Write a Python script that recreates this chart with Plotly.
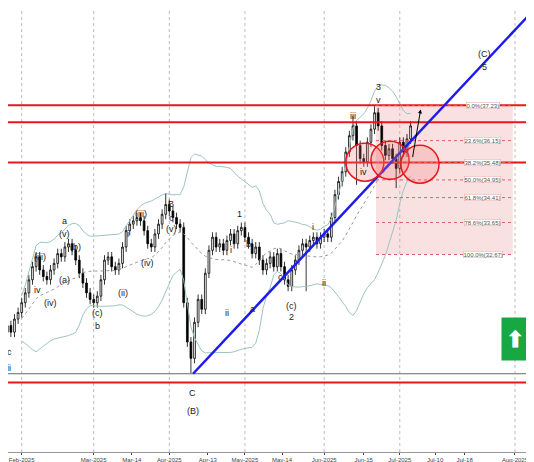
import plotly.graph_objects as go
import pandas as pd

## DATA
closes = [
    30.5, 30.3, 30.7, 30.9, 31.2, 31.5,
    31.9, 32.3, 32.6, 32.2, 32.0, 31.9,
    32.2, 32.4, 32.7, 32.6, 32.9, 33.0,
    32.8, 32.5, 32.1, 31.8, 31.5, 31.3,
    31.2, 31.4, 31.9, 32.5, 32.6, 32.3,
    32.2, 32.4, 32.9, 33.4, 33.6, 33.7,
    33.8, 33.7, 33.4, 33.0, 32.9, 33.3,
    33.6, 33.9, 34.2, 34.0, 33.8, 33.6,
    33.5, 31.2, 30.0, 29.5, 30.6, 31.3,
    31.0, 32.1, 32.8, 33.2, 32.9, 33.0,
    32.8, 33.1, 33.3, 33.0, 33.4, 33.5,
    33.2, 33.0, 32.7, 32.9, 32.5, 32.2,
    32.4, 32.6, 32.3, 32.7, 32.3, 31.9,
    31.7, 32.2, 32.5, 32.8, 33.0, 32.9,
    33.1, 33.2, 33.0, 33.2, 33.3, 33.2,
    33.8, 34.5, 34.9, 35.2, 35.8, 36.3,
    36.6, 36.0, 35.6, 35.5, 36.1, 36.5,
    37.0, 36.6, 36.0, 35.7, 35.9, 35.6,
    35.3, 36.1, 35.8, 36.2, 36.6,
]
first_index = -6
extreme_lows = {51: 29.05, 83: 31.55, 97: 34.8, 108: 34.7}
extreme_highs = {44: 34.55, 102: 37.2, 96: 36.9}

tick_labels = ['Feb-2025', 'Mar-2025', 'Mar-14', 'Apr-2025', 'Apr-13', 'May-2025', 'May-14',
               'Jun-2025', 'Jun-15', 'Jul-2025', 'Jul-10', 'Jul-18', 'Aug-2025']
tick_pos = [-2, 18, 28.6, 39, 49.7, 60, 70.3, 82, 93, 103, 112.8, 121, 135]
month_pos = [-2, 18, 39, 60, 82, 103, 135]

red_levels = [37.23, 36.71, 35.48, 28.76]
fib_pct = ['0.0%', '23.6%', '38.2%', '50.0%', '61.8%', '78.6%', '100.0%']
fib_val = [37.23, 36.15, 35.48, 34.95, 34.41, 33.65, 32.67]

wave_labels = [  # text, x, price
    ('(C)', 126.5, 38.8), ('5', 126.5, 38.4), ('3', 97, 37.8), ('B', 39.5, 34.2),
    ('c', 39.5, 33.8), ('(v)', 39.5, 33.45), ('1', 58.5, 33.9), ('2', 72.8, 30.75),
    ('(c)', 72.8, 31.1), ('C', 45.5, 28.45), ('(B)', 45.5, 27.9), ('iii', 90, 36.9),
    ('v', 97, 37.4), ('iv', 93, 35.2), ('(iv)', 33, 32.4), ('(ii)', 26, 31.5),
    ('i', 27.5, 33.3), ('(iii)', 31, 33.9), ('a', 10, 33.7), ('(v)', 10, 33.3),
    ('(b)', 13, 32.9), ('(a)', 10, 31.9), ('(iv)', 6, 31.2), ('(c)', 19, 30.9),
    ('b', 19, 30.5), ('iv', 2.5, 31.6), ('(iii)', 3, 32.6), ('i', 56, 32.8),
    ('ii', 55, 30.9), ('c', 70, 32.0), ('b', 61, 33.0), ('a', 62, 31.0),
    ('i', 79, 33.5), ('ii', 82, 31.8), ('ii', -5.5, 29.2), ('c', -5.5, 29.7),
]

## BUILD CANDLES
idx = list(range(first_index, first_index + len(closes)))
opens = [closes[0] - 0.2] + closes[:-1]
highs = [max(o, c) + 0.15 for o, c in zip(opens, closes)]
lows = [min(o, c) - 0.15 for o, c in zip(opens, closes)]
for k, v in extreme_lows.items():
    if k < len(lows): lows[k] = v
for k, v in extreme_highs.items():
    if k < len(highs): highs[k] = v

df = pd.DataFrame(dict(x=idx, o=opens, h=highs, l=lows, c=closes))
mid = df['c'].rolling(20, min_periods=5).mean()
sd = df['c'].rolling(20, min_periods=5).std()

fig = go.Figure()
fig.add_shape(type='rect', x0=96.4, x1=134.4, y0=32.67, y1=37.23,
              fillcolor='rgba(240,170,170,0.35)', line_width=0, layer='below')
for xv in month_pos:
    fig.add_vline(x=xv, line=dict(color='#bbbbbb', width=1, dash='dot'), layer='below')

fig.add_trace(go.Scatter(x=df['x'], y=mid + 2 * sd, mode='lines', line=dict(color='#9cc4c4', width=1), hoverinfo='skip'))
fig.add_trace(go.Scatter(x=df['x'], y=mid - 2 * sd, mode='lines', line=dict(color='#9cc4c4', width=1), hoverinfo='skip'))
fig.add_trace(go.Scatter(x=df['x'], y=mid, mode='lines', line=dict(color='#999999', width=1, dash='dot'), hoverinfo='skip'))
fig.add_trace(go.Candlestick(
    x=df['x'], open=df['o'], high=df['h'], low=df['l'], close=df['c'], whiskerwidth=0,
    increasing=dict(fillcolor='white', line=dict(color='black', width=0.8)),
    decreasing=dict(fillcolor='black', line=dict(color='black', width=0.8)),
))

for lv in red_levels:
    fig.add_hline(y=lv, line=dict(color='#e8161b', width=2))
fig.add_hline(y=29.03, line=dict(color='#666666', width=1))

for p, v in zip(fib_pct, fib_val):
    fig.add_shape(type='line', x0=96.4, x1=134.4, y0=v, y1=v, line=dict(color='#e06060', width=1, dash='dot'))
    fig.add_annotation(x=126, y=v, text=f'{p}({v:.2f})', showarrow=False, font=dict(size=6, color='#555'),
                       bgcolor='white', bordercolor='#e8a0a0', borderwidth=0.5, borderpad=0)

## trend line
fig.add_shape(type='line', x0=45.6, y0=29.03, x1=142.5, y1=40.41, line=dict(color='#1c1cf0', width=2.5))

## circles
for cx, cy in [(93.3, 35.49), (100.3, 35.55), (108.6, 35.43)]:
    fig.add_shape(type='circle', x0=cx - 5.3, x1=cx + 5.3, y0=cy - 0.58, y1=cy + 0.58,
                  fillcolor='rgba(240,120,120,0.25)', line=dict(color='#e8161b', width=1.5))

fig.add_annotation(x=108.8, y=37.1, ax=106.5, ay=35.6, xref='x', yref='y', axref='x', ayref='y',
                   showarrow=True, arrowhead=2, arrowsize=0.8, arrowwidth=1, arrowcolor='black', text='')

for t, xv, yv in wave_labels:
    fig.add_annotation(x=xv, y=yv, text=t, showarrow=False, font=dict(size=9, color='#222'))

fig.add_annotation(x=0.975, y=0.205, xref='paper', yref='paper', text='<b>⬆</b>', showarrow=False,
                   font=dict(size=22, color='white'), bgcolor='#17a844', width=24, height=40)

fig.update_layout(
    width=534, height=462, margin=dict(l=0, r=0, t=0, b=18),
    plot_bgcolor='white', paper_bgcolor='white', showlegend=False,
    xaxis=dict(range=[-5.8, 142.5], tickvals=tick_pos, ticktext=tick_labels, showgrid=False,
               rangeslider=dict(visible=False), tickfont=dict(size=6, color='#444'),
               ticks='outside', ticklen=2, showline=True, linecolor='#999'),
    yaxis=dict(range=[26.64, 40.2], showticklabels=False, showgrid=False, zeroline=False),
    font=dict(family='Liberation Sans'),
)

fig.write_html('out.html')
